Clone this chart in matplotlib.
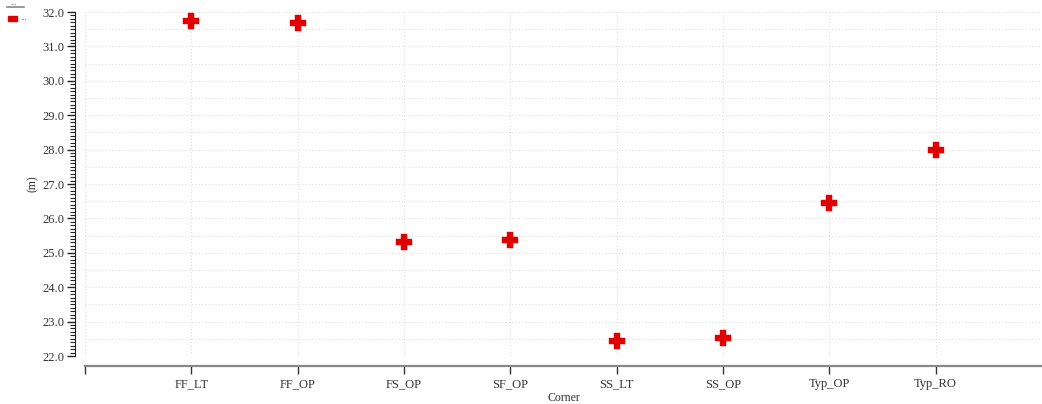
import matplotlib.pyplot as plt
import numpy as np
from matplotlib.lines import Line2D
from matplotlib.patches import Rectangle
from matplotlib.ticker import MultipleLocator, FormatStrFormatter

plt.rcParams['font.family'] = ['Liberation Serif', 'DejaVu Serif']

# Corner results
corners = ['FF_LT', 'FF_OP', 'FS_OP', 'SF_OP', 'SS_LT', 'SS_OP', 'Typ_OP', 'Typ_RO']
values = [31.74, 31.69, 25.32, 25.38, 22.44, 22.52, 26.45, 27.99]

W, H = 1042, 404
fig = plt.figure(figsize=(W / 100, H / 100), dpi=100)
ax = fig.add_axes([85 / W, 1 - 356 / H, (W - 85) / W, (356 - 12) / H])

x = np.arange(1, len(corners) + 1)
ax.set_xlim(0, len(corners) + 1)
ax.set_ylim(22, 32)

# light dotted grid: every 0.5 across, one line per corner down
for yv in np.arange(22, 32.01, 0.5):
    ax.axhline(yv, color='#dddddd', lw=0.8, ls=(0, (1, 2)), zorder=0)
for xv in np.arange(0, len(corners) + 1):
    ax.axvline(xv, color='#dddddd', lw=0.8, ls=(0, (1, 2)), zorder=0)

ax.plot(x, values, ls='none', marker='P', ms=11.5, color='#e00000',
        markeredgecolor='#e00000', markeredgewidth=0.3, zorder=3)

# detached axes, d3-like
for s in ('top', 'right'):
    ax.spines[s].set_visible(False)
ax.spines['left'].set_position(('outward', 7))
ax.spines['bottom'].set_position(('outward', 7))
ax.spines['left'].set_color('#222222')
ax.spines['bottom'].set_color('#888888')
ax.spines['bottom'].set_linewidth(1.6)

ax.set_xticks(np.arange(0, len(corners) + 1))
ax.set_xticklabels([''] + corners, fontsize=9, color='#333333')
ax.tick_params(axis='x', length=6, width=1, color='#333333', pad=3)

ax.yaxis.set_major_locator(MultipleLocator(1))
ax.yaxis.set_minor_locator(MultipleLocator(0.1))
ax.yaxis.set_major_formatter(FormatStrFormatter('%.1f'))
ax.tick_params(axis='y', which='major', length=6, width=1, labelsize=9,
               labelcolor='#333333', color='#222222', pad=2)
ax.tick_params(axis='y', which='minor', length=3.5, width=0.8, color='#222222')

ax.set_xlabel('Corner', fontsize=8.5, color='#333333', labelpad=1)
ax.set_ylabel('(m)', fontsize=8.5, color='#333333', labelpad=2)

# small legend box at the top left
fig.add_artist(Line2D([7 / W, 24 / W], [1 - 7 / H, 1 - 7 / H], color='#888888', lw=1.2))
fig.text(10 / W, 1 - 3 / H, '...', fontsize=6, color='#555555', va='center')
fig.add_artist(Rectangle((8 / W, 1 - 21 / H), 9 / W, 5 / H, color='#e00000'))
fig.text(20 / W, 1 - 18 / H, '...', fontsize=6, color='#555555', va='center')

fig.savefig('out.png', dpi=100)
